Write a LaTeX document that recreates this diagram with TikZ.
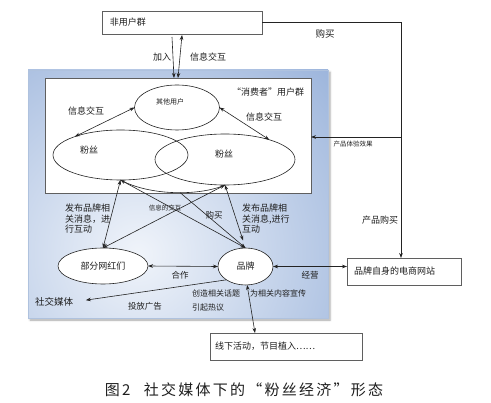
\documentclass[tikz,border=0pt]{standalone}
\usepackage{fontspec}
\setmainfont{Noto Sans CJK SC}
\newfontfamily\capfont[LetterSpace=15]{Noto Sans CJK SC}
\usetikzlibrary{shapes.geometric,arrows.meta,shadows.blur,calc}

\definecolor{lineC}{RGB}{35,35,35}
\definecolor{boxC}{RGB}{95,95,95}
\definecolor{panelOut}{RGB}{118,152,206}
\definecolor{panelIn}{RGB}{240,244,250}
\definecolor{panelEdge}{RGB}{175,194,222}
\definecolor{txtC}{RGB}{30,30,30}

\begin{document}
\begin{tikzpicture}[x=1pt,y=-1pt,
  every node/.style={inner sep=0pt, outer sep=0pt, text=txtC},
  t6/.style={font=\fontsize{6.5}{8}\selectfont},
  t7/.style={font=\fontsize{7}{8.5}\selectfont},
  t8/.style={font=\fontsize{8}{9.5}\selectfont},
  t85/.style={font=\fontsize{8.5}{10}\selectfont},
  t9/.style={font=\fontsize{9}{10.5}\selectfont},
  t95/.style={font=\fontsize{9.5}{11}\selectfont},
  box/.style={rectangle, draw=boxC, line width=0.7pt, fill=white, align=left},
  ell/.style={ellipse, draw=lineC, line width=0.6pt},
  ln/.style={draw=lineC, line width=0.6pt},
  ar/.style={ln, -{Stealth[length=5pt,width=3.6pt]}},
  dar/.style={ln, {Stealth[length=5pt,width=3.6pt]}-{Stealth[length=5pt,width=3.6pt]}}
]
\useasboundingbox (0,0) rectangle (491,403);

% blue panel
\node[rectangle, minimum width=300, minimum height=248, draw=panelEdge, line width=0.8pt,
  blur shadow={shadow xshift=2pt, shadow yshift=-2pt, shadow blur steps=5, shadow opacity=35},
  path picture={\shade[inner color=panelIn, outer color=panelOut]
    ($(path picture bounding box.center)+(-40,60)$) circle (390pt);}] (panel) at (178,194) {};

% inner white box
\node[rectangle, draw=boxC, line width=0.8pt, fill=white, minimum width=266, minimum height=115] (inner) at (178,135.5) {};

% boxes
\node[box, t9, minimum width=160, minimum height=23, text width=144, inner xsep=8] (nonuser) at (182,22.5) {非用户群};
\node[box, t9, minimum width=114, minimum height=27, text width=100, inner xsep=7] (eshop) at (404,271.5) {品牌自身的电商网站};
\node[box, t9, minimum width=152, minimum height=27, text width=142, inner xsep=5] (offline) at (286,346.5) {线下活动，节目植入……};

% ellipses
\node[ell, fill=white, minimum width=85, minimum height=45] (other) at (177,107.5) {};
\node[ell, minimum width=135, minimum height=50] (fanL) at (120.5,155) {};
\node[ell, minimum width=140, minimum height=51] (fanR) at (225,159.5) {};
\node[ell, fill=white, t9, minimum width=90, minimum height=36] (kol) at (103,266) {部分网红们};
\node[ell, fill=white, t9, minimum width=55, minimum height=37] (brand) at (245.5,266.5) {品牌};

% texts inside
\node[t7] (otherT) at (170,102) {其他用户};
\node[t9] (fanLT) at (89,150) {粉丝};
\node[t9] (fanRT) at (224,154) {粉丝};
\node[t9] (group) at (268,92) {“消费者”用户群};

% labels
\node[t9] (lJoin) at (162,57) {加入};
\node[t9] (lInfoTop) at (208,57) {信息交互};
\node[t9] (lInfoL) at (86,111) {信息交互};
\node[t9] (lInfoR) at (264,117) {信息交互};
\node[t95] (lBuyTop) at (325,34) {购买};
\node[t6] (lExp) at (353,144) {产品体验效果};
\node[t9] (lProdBuy) at (380,220) {产品购买};
\node[t9, anchor=north west, align=left] (lPubL) at (65,204) {发布品牌相\\关消息，进\\行互动};
\node[t9, anchor=north west, align=left] (lPubR) at (242,204) {发布品牌相\\关消息,进行\\互动};
\node[t6] (lInfoMid) at (165,208) {信息的交互};
\node[t85] (lBuyMid) at (214,215) {购买};
\node[t85] (lCoop) at (180,275) {合作};
\node[t85] (lRun) at (310,275) {经营};
\node[t95, anchor=west] (social) at (35,302) {社交媒体};
\node[t85] (lAd) at (145,306) {投放广告};
\node[t8, anchor=west] (lTopic) at (192,293) {创造相关话题};
\node[t8, anchor=west] (lHot) at (192,307) {引起热议};
\node[t8, anchor=west] (lPromo) at (250,293) {为相关内容宣传};

% caption
\node[font=\capfont\fontsize{15}{15}\selectfont] (caption) at (244,390) {图2\hspace{0.9em}社交媒体下的“粉丝经济”形态};

% connectors top
\draw[ar] ($(nonuser.south)+(-10,3)$) -- ($(inner.north)+(-4,0)$);
\draw[dar] ($(inner.north)+(0,0)$) -- ($(nonuser.south)+(0,1)$);

\coordinate (vx) at (401,0);
\coordinate (br) at (401,137);
\draw[ar] (nonuser.east) -- (nonuser.east -| vx) -- (vx |- eshop.north);
\draw[ar] (br) -- (br -| inner.east);

\draw[dar] (fanL.158) -- (other.west);
\draw[dar] (other.east) -- (fanR.24);

% connectors bottom
\draw[ln] (fanL.south) .. controls (150,196) and (200,196) .. (fanR.south) coordinate[pos=0.55] (bs);
\draw[dar] (fanL.south) -- (kol.north);
\draw[dar, shorten >=8pt] (fanR.south) -- (brand.north);
\draw[dar] (fanL.south) -- (brand.north);
\draw[dar] (fanR.south) -- (kol.north);
\draw[ar] (bs) -- (brand.north);

\draw[dar] (kol.east) -- (brand.west);
\draw[dar] (brand.east) -- (brand.east -| eshop.west);
\draw[ar, shorten >=13pt] (brand.215) -- (social.east);
\draw[dar] (brand.-85) -- ($(offline.north west)+(45,0)$);
\end{tikzpicture}
\end{document}
